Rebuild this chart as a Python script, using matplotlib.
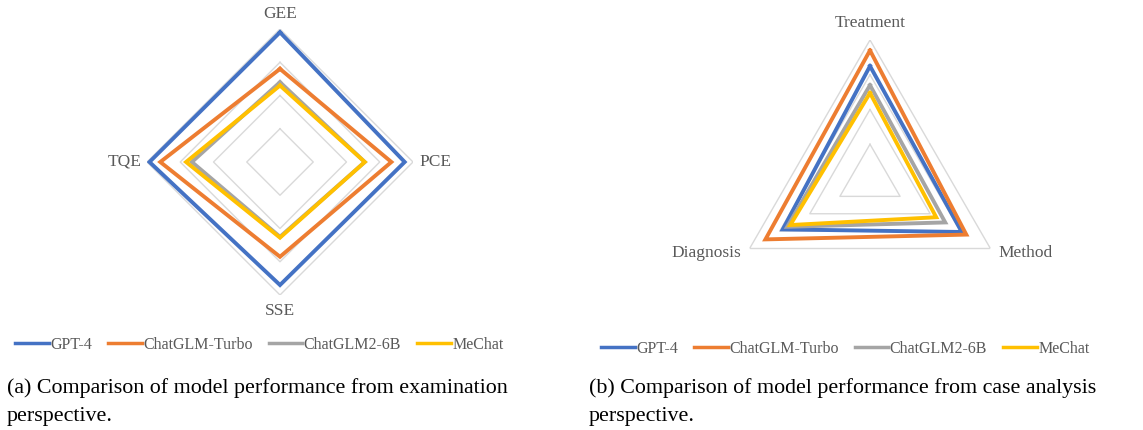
import numpy as np
import matplotlib.pyplot as plt
from matplotlib.lines import Line2D

# dados (anel externo = 80)
modelos = ["GPT-4", "ChatGLM-Turbo", "ChatGLM2-6B", "MeChat"]
cores = ["#4472C4", "#ED7D31", "#A5A5A5", "#FFC000"]

eixos_a = ["GEE", "PCE", "SSE", "TQE"]
gpt4_a = [78, 75, 74, 78.5]
turbo_a = [56, 67, 57, 72]
glm2_a = [48, 51, 45, 53]
mechat_a = [46, 51, 45.5, 56.5]

eixos_b = ["Treatment", "Method", "Diagnosis"]
gpt4_b = [65, 61, 58]
turbo_b = [74, 64, 69.5]
glm2_b = [54, 50, 55]
mechat_b = [49.5, 44, 53]

aneis = [20, 40, 60, 80]
rmax = 80

plt.rcParams['font.family'] = ['Liberation Serif', 'DejaVu Serif']

fig = plt.figure(figsize=(11.43, 4.30), dpi=100)
W, H = 1143, 430


def radar(cx, cy, R, eixos, series, rotulos):
    ax = fig.add_axes([(cx - R) / W, (H - cy - R) / H, 2 * R / W, 2 * R / H],
                      projection='polar')
    ax.set_theta_zero_location('N')
    ax.set_theta_direction(-1)
    n = len(eixos)
    th = np.linspace(0, 2 * np.pi, n, endpoint=False)
    thc = np.append(th, th[0])
    for r in aneis:
        ax.plot(thc, [r] * (n + 1), color='#D9D9D9', lw=1.0, zorder=1)
    for vals, cor in zip(series, cores):
        v = list(vals) + [vals[0]]
        ax.plot(thc, v, color=cor, lw=2.8, solid_joinstyle='miter', zorder=2)
    for t, nome, (rf, ha, va) in zip(th, eixos, rotulos):
        ax.text(t, rf * rmax, nome, ha=ha, va=va, fontsize=12.5, color='#595959')
    ax.set_ylim(0, rmax)
    ax.grid(False)
    ax.set_xticks([])
    ax.set_yticks([])
    ax.spines['polar'].set_visible(False)
    ax.patch.set_alpha(0)
    return ax


radar(280, 162, 133, eixos_a, [gpt4_a, turbo_a, glm2_a, mechat_a],
      [(1.11, 'center', 'center'), (1.05, 'left', 'center'),
       (1.12, 'center', 'center'), (1.04, 'right', 'center')])
radar(870, 179, 139, eixos_b, [gpt4_b, turbo_b, glm2_b, mechat_b],
      [(1.12, 'center', 'center'), (1.07, 'left', 'center'),
       (1.07, 'right', 'center')])

handles = [Line2D([], [], color=c, lw=2.5) for c in cores]
for x0, y0 in [(15, 345), (601, 349)]:
    leg = fig.legend(handles, modelos, loc='center left',
                     bbox_to_anchor=(x0 / W, 1 - y0 / H), ncol=4, frameon=False,
                     fontsize=11.5, handlelength=2.1, handletextpad=0.1,
                     columnspacing=1.0, borderpad=0, borderaxespad=0)
    for t in leg.get_texts():
        t.set_color('#595959')

fig.text(7 / W, 1 - 388 / H, "(a) Comparison of model performance from examination",
         fontsize=15.8, va='center', ha='left')
fig.text(7 / W, 1 - 417 / H, "perspective.", fontsize=15.8, va='center', ha='left')
fig.text(589 / W, 1 - 388 / H, "(b) Comparison of model performance from case analysis",
         fontsize=15.8, va='center', ha='left')
fig.text(589 / W, 1 - 417 / H, "perspective.", fontsize=15.8, va='center', ha='left')

fig.savefig('out.png', dpi=100)
